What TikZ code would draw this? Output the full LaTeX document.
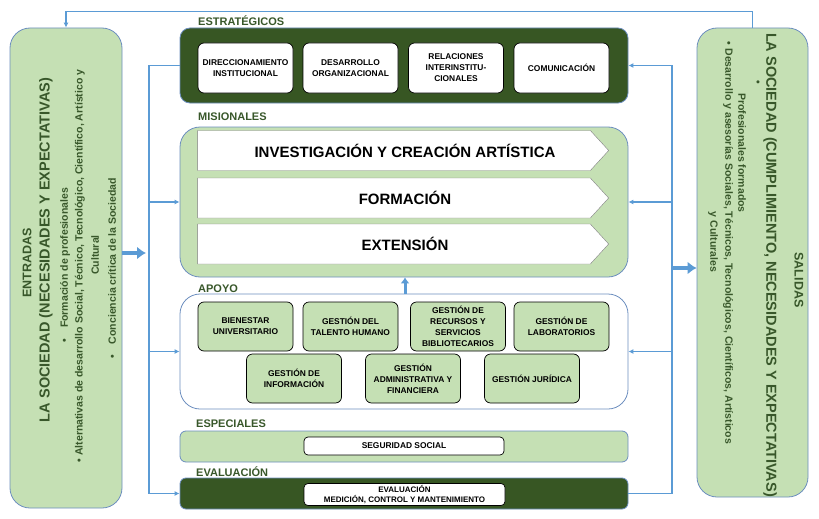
\documentclass[tikz,border=0pt]{standalone}
\usepackage{fontspec}
\setmainfont{Liberation Sans}
\usetikzlibrary{positioning,shapes,arrows.meta}

\definecolor{lightgreen}{HTML}{C5E0B4}
\definecolor{darkgreen}{HTML}{375623}
\definecolor{labelgreen}{HTML}{38572A}
\definecolor{linkblue}{HTML}{5B9BD5}
\definecolor{edgeblue}{HTML}{6C8EBF}

\tikzset{
  sidebox/.style={draw=edgeblue, fill=lightgreen, rounded corners=20pt, line width=0.8pt},
  band/.style={draw=edgeblue, line width=0.8pt, minimum width=448, inner sep=0pt},
  whitebox/.style={draw=black, fill=white, rounded corners=6pt, minimum width=95, minimum height=50,
    inner sep=1pt, align=center, line width=0.7pt, font=\bfseries\fontsize{8.4}{11}\selectfont},
  greenbox/.style={whitebox, fill=lightgreen, minimum height=49},
  chevron/.style={signal, signal to=east, signal pointer angle=95, draw=gray, fill=white,
    minimum width=411, minimum height=40, inner sep=0pt, font=\bfseries\fontsize{15}{18}\selectfont},
  grouplabel/.style={anchor=base west, inner sep=0pt, text=labelgreen, font=\bfseries\fontsize{11}{13}\selectfont},
  sidetext/.style={inner sep=0pt, text=labelgreen, font=\bfseries\fontsize{10.5}{12}\selectfont},
  link/.style={draw=linkblue, line width=1.6pt, -{Latex[length=5pt,width=5pt]}},
  bigarrow/.style={draw=linkblue, line width=4.5pt, -{Latex[length=9pt,width=13pt]}}
}

\begin{document}
\begin{tikzpicture}[x=1pt,y=-1pt]
  \useasboundingbox (0,0) rectangle (819,519);

  % Entradas y salidas
  \node[sidebox, minimum width=112, minimum height=480] (entradas) at (66,268) {};
  \node[sidebox, minimum width=111, minimum height=469] (salidas) at (752.5,262.5) {};

  \node[sidetext, rotate=90, font=\bfseries\fontsize{12.5}{14}\selectfont] (ent1) at (27,263) {ENTRADAS};
  \node[sidetext, rotate=90, font=\bfseries\fontsize{14.5}{16}\selectfont] (ent2) at (46,250) {LA SOCIEDAD (NECESIDADES Y EXPECTATIVAS)};
  \node[sidetext, rotate=90] (ent3) at (65,265) {•\quad Formación de profesionales};
  \node[sidetext, rotate=90] (ent4) at (80,266) {• Alternativas de desarrollo Social, Técnico, Tecnológico, Científico, Artístico y};
  \node[sidetext, rotate=90] (ent5) at (95,255) {Cultural};
  \node[sidetext, rotate=90] (ent6) at (112,268) {•\quad Conciencia crítica de la Sociedad};

  \node[sidetext, rotate=-90, font=\bfseries\fontsize{12.5}{14}\selectfont] (sal1) at (799,280) {SALIDAS};
  \node[sidetext, rotate=-90, font=\bfseries\fontsize{14.5}{16}\selectfont] (sal2) at (770,265) {LA SOCIEDAD (CUMPLIMIENTO, NECESIDADES Y EXPECTATIVAS)};
  \node[sidetext, rotate=-90] (sal3) at (757,82) {•};
  \node[sidetext, rotate=-90] (sal4) at (742,153) {Profesionales formados};
  \node[sidetext, rotate=-90] (sal5) at (728,243) {• Desarrollo y asesorías Sociales, Técnicos, Tecnológicos, Científicos, Artísticos};
  \node[sidetext, rotate=-90] (sal6) at (713,242) {y Culturales};

  % Procesos
  \node[band, fill=darkgreen, rounded corners=10pt, minimum height=75] (strat) at (404,65.5) {};
  \node[band, fill=lightgreen, rounded corners=20pt, minimum height=150] (mision) at (404,202) {};
  \node[band, fill=white, rounded corners=20pt, minimum height=115] (apoyo) at (404,351.5) {};
  \node[band, fill=lightgreen, rounded corners=6pt, minimum height=31] (espec) at (404,446.5) {};
  \node[band, fill=darkgreen, rounded corners=6pt, minimum height=31] (evalu) at (404,493.5) {};

  \node[grouplabel] (lblstrat) at (198,26) {ESTRATÉGICOS};
  \node[grouplabel] (lblmision) at (198,120) {MISIONALES};
  \node[grouplabel] (lblapoyo) at (198,292) {APOYO};
  \node[grouplabel] (lblespec) at (196,427) {ESPECIALES};
  \node[grouplabel] (lblevalu) at (196,476) {EVALUACIÓN};

  % Estratégicos
  \node[whitebox] (direc) at (245.5,68) {DIRECCIONAMIENTO\\INSTITUCIONAL};
  \node[whitebox] (desor) at (350.5,68) {DESARROLLO\\ORGANIZACIONAL};
  \node[whitebox] (relac) at (456,68) {RELACIONES\\INTERINSTITU-\\CIONALES};
  \node[whitebox] (comun) at (561.5,68) {COMUNICACIÓN};

  % Misionales
  \node[chevron] (invest) at (394,150.5) {\hspace*{22pt}INVESTIGACIÓN Y CREACIÓN ARTÍSTICA};
  \node[chevron] (forma) at (394,198) {\hspace*{22pt}FORMACIÓN};
  \node[chevron] (exten) at (394,244) {\hspace*{22pt}EXTENSIÓN};

  % Apoyo
  \node[greenbox] (bienes) at (245.5,326.5) {BIENESTAR\\UNIVERSITARIO};
  \node[greenbox] (talento) at (350.5,326.5) {GESTIÓN DEL\\TALENTO HUMANO};
  \node[greenbox] (biblio) at (458,326.5) {GESTIÓN DE\\RECURSOS Y\\SERVICIOS\\BIBLIOTECARIOS};
  \node[greenbox] (labor) at (561.5,326.5) {GESTIÓN DE\\LABORATORIOS};
  \node[greenbox] (inform) at (294,378.5) {GESTIÓN DE\\INFORMACIÓN};
  \node[greenbox] (admin) at (413,378.5) {GESTIÓN\\ADMINISTRATIVA Y\\FINANCIERA};
  \node[greenbox] (jurid) at (532,378.5) {GESTIÓN JURÍDICA};

  % Especiales y evaluacion
  \node[whitebox, rounded corners=4pt, minimum width=200, minimum height=18] (segur) at (404,446) {SEGURIDAD SOCIAL};
  \node[whitebox, rounded corners=4pt, minimum width=201, minimum height=22,
    font=\bfseries\fontsize{8}{10.5}\selectfont] (medic) at (404.5,494.5) {EVALUACIÓN\\MEDICIÓN, CONTROL Y MANTENIMIENTO};

  % Conectores
  \coordinate (lbot) at (149,493.5);
  \coordinate (rtop) at (672,65.5);
  \coordinate (lin) at (146,253);
  \coordinate (rout) at (672,268);

  \draw[link] (strat.west) -| (lbot) -- (evalu.west);
  \draw[link] (lbot |- mision.west) -- (mision.west);
  \draw[link] (lbot |- apoyo.west) -- (apoyo.west);

  \draw[link] (evalu.east) -| (rtop) -- (strat.east);
  \draw[link] (rtop |- mision.east) -- (mision.east);
  \draw[link] (rtop |- apoyo.east) -- (apoyo.east);

  \draw[bigarrow] (entradas.east |- lin) -- (lin);
  \draw[bigarrow] (rout) -- (salidas.west |- rout);
  \draw[draw=linkblue, line width=3pt, -{Latex[length=6pt,width=9pt]}] (apoyo.north -| 405,0) -- (mision.south -| 405,0);

  \draw[link] (salidas.north) -- ++(0,-16) -| (entradas.north);
\end{tikzpicture}
\end{document}
